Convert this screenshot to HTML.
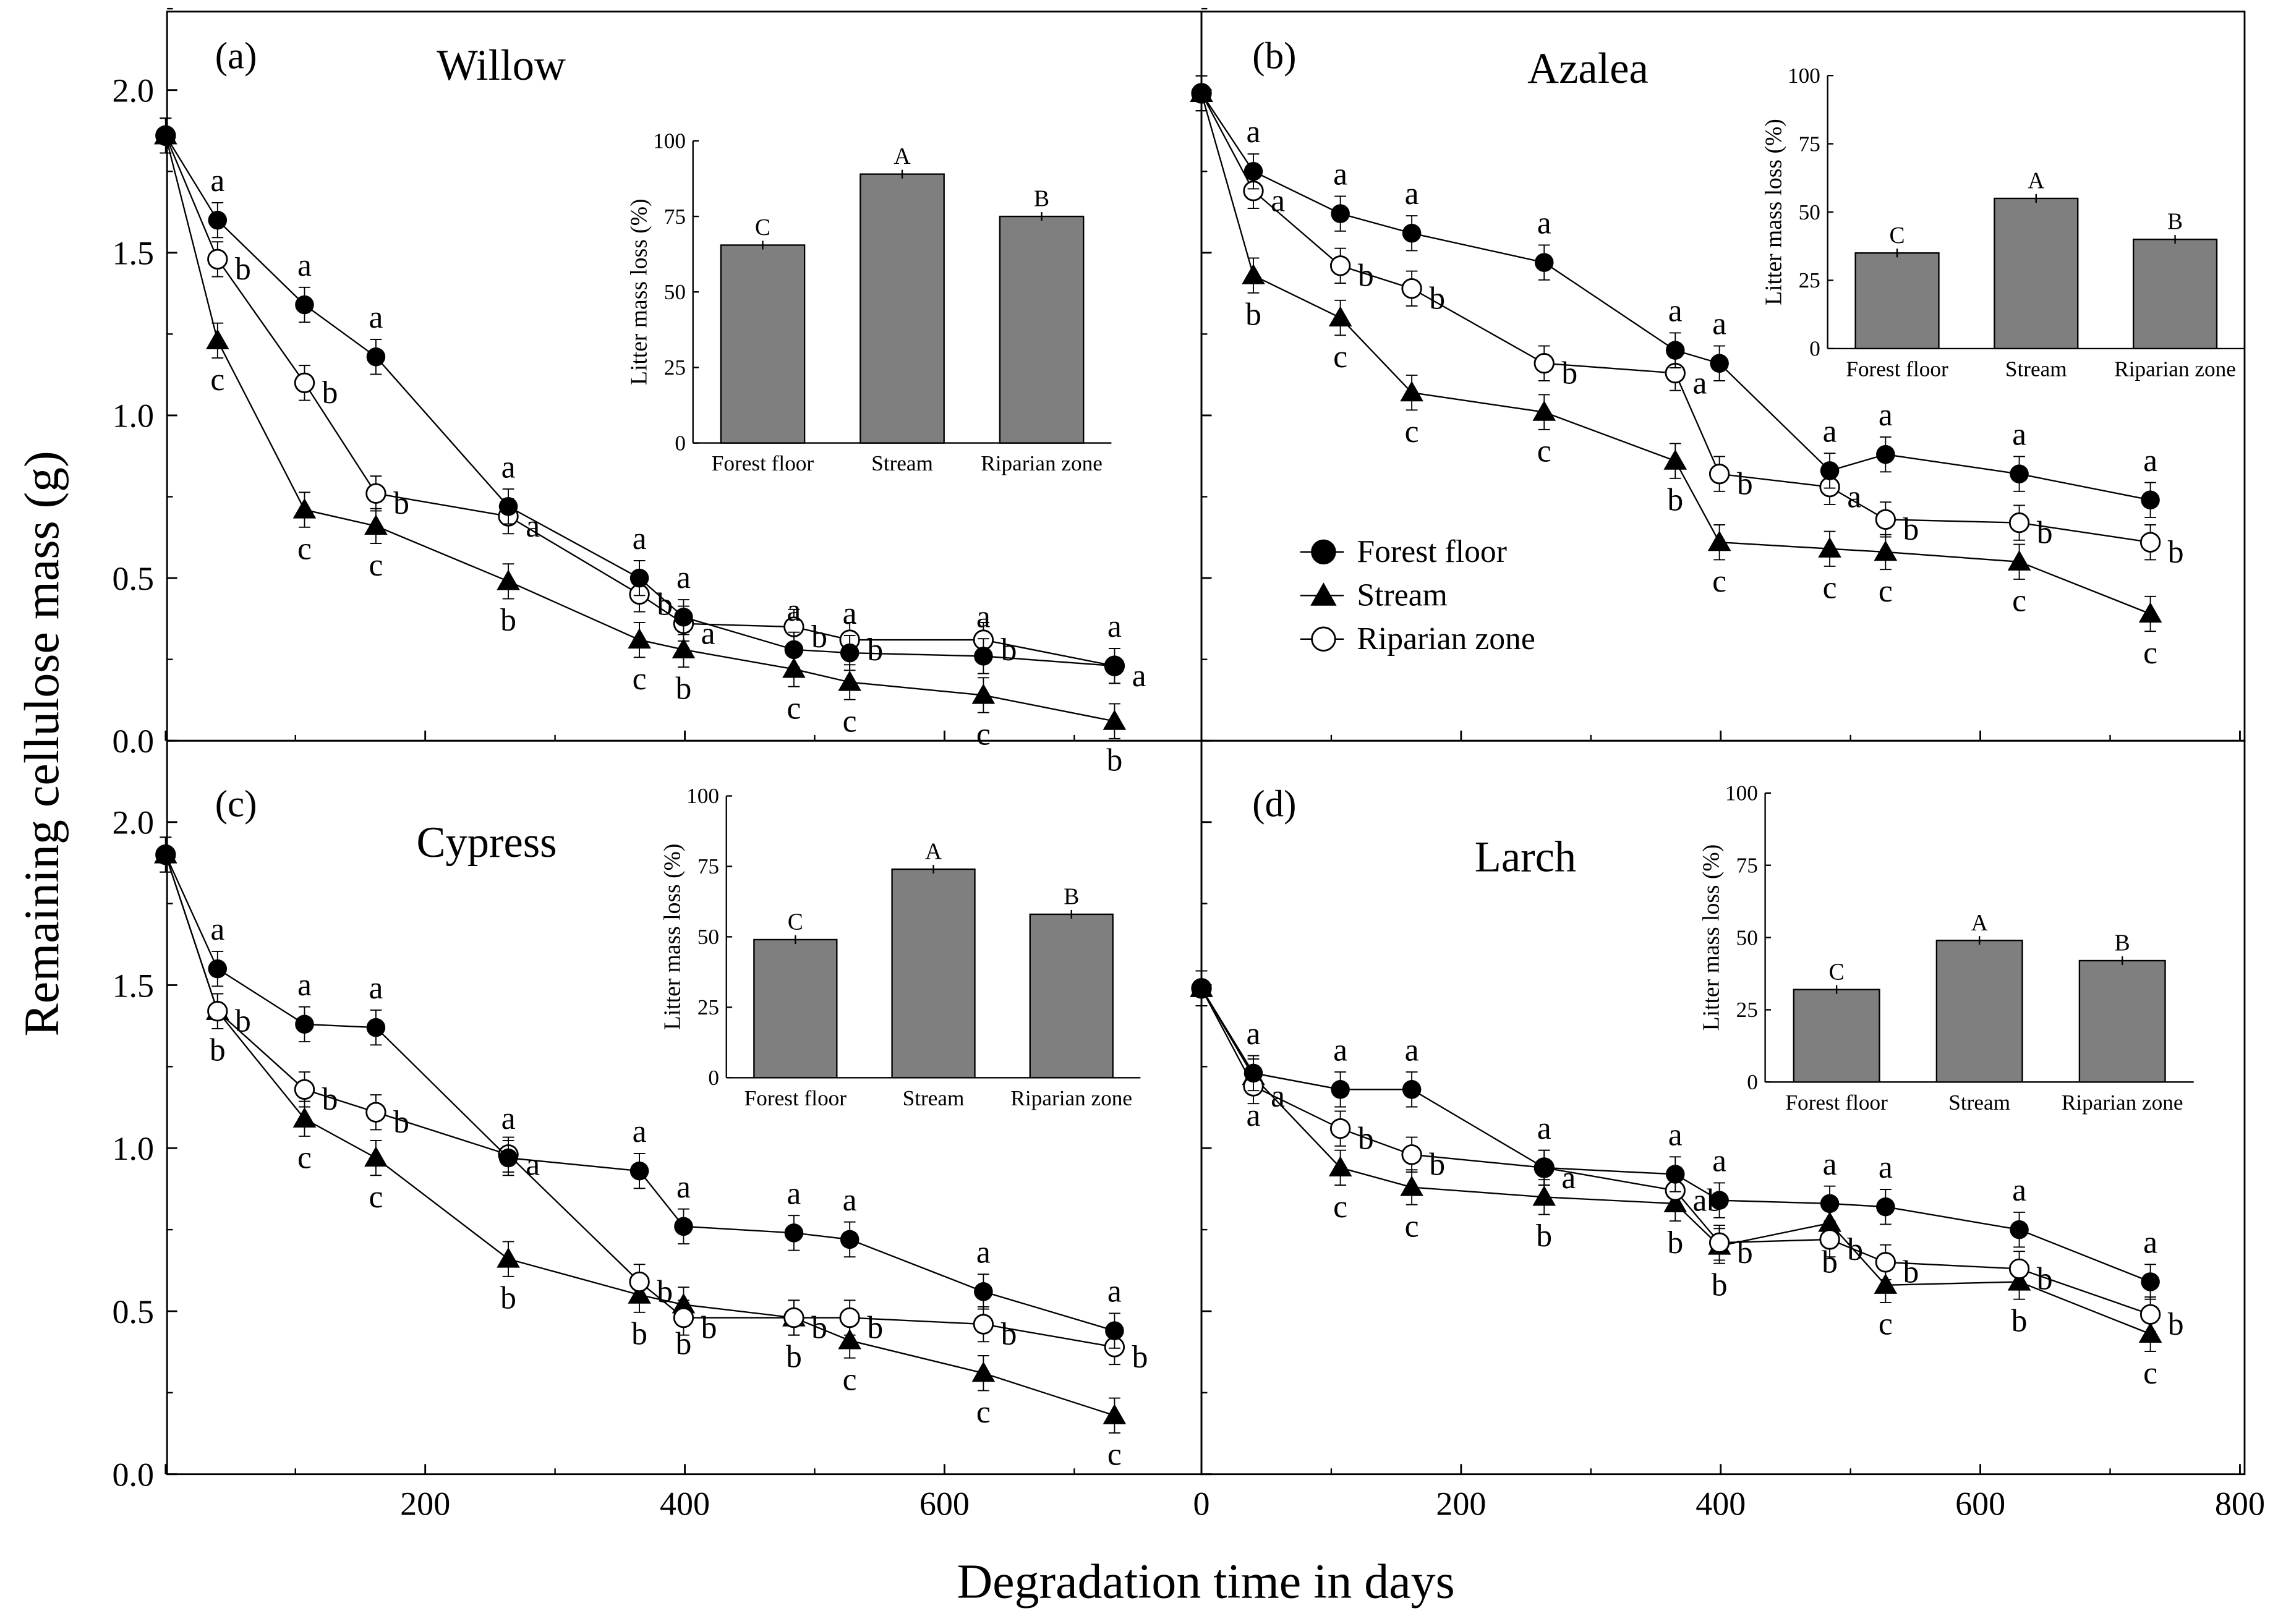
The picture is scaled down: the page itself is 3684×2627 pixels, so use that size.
<!DOCTYPE html>
<html><head><meta charset="utf-8"><style>
html,body{margin:0;padding:0;background:#fff;}
svg, svg text{font-family:"Liberation Serif","Times New Roman",serif;}
</style></head><body>
<svg id="chart" width="3684" height="2622" viewBox="0 0 1568 1116" preserveAspectRatio="none" xmlns="http://www.w3.org/2000/svg" font-family="Liberation Serif, serif">
<rect width="1568" height="1116" fill="#fff"/>
</svg>
<script>
const days = [0,40,107,162,264,365,399,484,527,630,731];
const titles = ["Willow","Azalea","Cypress","Larch"];
const tags = ["(a)","(b)","(c)","(d)"];
const ffA=[1.86,1.60,1.34,1.18,0.72,0.50,0.38,0.28,0.27,0.26,0.23];
const stA=[1.86,1.23,0.71,0.66,0.49,0.31,0.28,0.22,0.18,0.14,0.06];
const rpA=[1.86,1.48,1.10,0.76,0.69,0.45,0.36,0.35,0.31,0.31,0.23];
const ffB=[1.99,1.75,1.62,1.56,1.47,1.20,1.16,0.83,0.88,0.82,0.74];
const stB=[1.99,1.43,1.30,1.07,1.01,0.86,0.61,0.59,0.58,0.55,0.39];
const rpB=[1.99,1.69,1.46,1.39,1.16,1.13,0.82,0.78,0.68,0.67,0.61];
const ffC=[1.90,1.55,1.38,1.37,0.97,0.93,0.76,0.74,0.72,0.56,0.44];
const stC=[1.90,1.42,1.09,0.97,0.66,0.55,0.52,0.48,0.41,0.31,0.18];
const rpC=[1.90,1.42,1.18,1.11,0.98,0.59,0.48,0.48,0.48,0.46,0.39];
const ffD=[1.49,1.23,1.18,1.18,0.94,0.92,0.84,0.83,0.82,0.75,0.59];
const stD=[1.49,1.22,0.94,0.88,0.85,0.83,0.70,0.77,0.58,0.59,0.43];
const rpD=[1.49,1.19,1.06,0.98,0.94,0.87,0.71,0.72,0.65,0.63,0.49];
const lfA=["","a","a","a","a","a","a","a","a","a","a"];
const lsA=["","c","c","c","b","c","b","c","c","c","b"];
const lrA=["","b","b","b","a","b","a","b","b","b","a"];
const lfB=["","a","a","a","a","a","a","a","a","a","a"];
const lsB=["","b","c","c","c","b","c","c","c","c","c"];
const lrB=["","a","b","b","b","a","b","a","b","b","b"];
const lfC=["","a","a","a","a","a","a","a","a","a","a"];
const lsC=["","b","c","c","b","b","b","b","c","c","c"];
const lrC=["","b","b","b","a","b","b","b","b","b","b"];
const lfD=["","a","a","a","a","a","a","a","a","a","a"];
const lsD=["","a","c","c","b","b","b","b","c","b","c"];
const lrD=["","a","b","b","a","ab","b","b","b","b","b"];
const barCats=["Forest floor","Stream","Riparian zone"];
const barLetters=["C","A","B"];
const barA=[65.5,89,75];
const barB=[35,55,40];
const barC=[49,74,58];
const barD=[32,49,42];
const yTicks=[0,0.5,1.0,1.5,2.0];
const yTickLabels=["0.0","0.5","1.0","1.5","2.0"];
const xTicks=[0,200,400,600,800];
const barTicks=[0,25,50,75,100];

const svg=document.getElementById('chart');
const NS="http://www.w3.org/2000/svg";
function el(t,a,p){const e=document.createElementNS(NS,t);for(const k in a)e.setAttribute(k,a[k]);(p||svg).appendChild(e);return e;}
function txt(s,a,p){a['font-family']='Liberation Serif, serif';const e=el('text',a,p);e.textContent=s;return e;}

const panels=[
 {L:115,R:827,T:8,B:510,ff:ffA,st:stA,rp:rpA,lf:lfA,ls:lsA,lr:lrA,bars:barA,inset:[477,97,765,305],tx:148,ty:47,tt:345,ttl:55,leftAxis:true,bottomAxis:false},
 {L:827,R:1545,T:8,B:510,ff:ffB,st:stB,rp:rpB,lf:lfB,ls:lsB,lr:lrB,bars:barB,inset:[1258,52,1545,240],tx:862,ty:47,tt:1093,ttl:57,leftAxis:false,bottomAxis:false},
 {L:115,R:827,T:510,B:1015,ff:ffC,st:stC,rp:rpC,lf:lfC,ls:lsC,lr:lrC,bars:barC,inset:[500,548,785,742],tx:148,ty:562,tt:335,ttl:590,leftAxis:true,bottomAxis:true},
 {L:827,R:1545,T:510,B:1015,ff:ffD,st:stD,rp:rpD,lf:lfD,ls:lsD,lr:lrD,bars:barD,inset:[1215,546,1510,745],tx:862,ty:562,tt:1050,ttl:600,leftAxis:false,bottomAxis:true}
];

panels.forEach((p,i)=>{
 const g=el('g',{});
 
 
 const x0=p.L===115?114:827;
 const sx=d=>x0+d*0.8935;
 const sy=v=>p.B-v*((p.B-p.T)===502?224:224.5);
 el('rect',{x:p.L,y:p.T,width:p.R-p.L,height:p.B-p.T,fill:'none',stroke:'#000','stroke-width':1.2},g);
 yTicks.forEach((v,k)=>{
  el('line',{x1:p.L,x2:p.L+7,y1:sy(v),y2:sy(v),stroke:'#000','stroke-width':1.2},g);
  el('line',{x1:p.L,x2:p.L+4,y1:sy(v+0.25),y2:sy(v+0.25),stroke:'#000','stroke-width':1},g);
  if(p.leftAxis){const t=txt(yTickLabels[k],{x:p.L-9,y:sy(v)+8,'text-anchor':'end','font-size':23},g);
   }
 });
 xTicks.forEach(d=>{
  const x=sx(d);
  if(x>=p.L-1&&x<=p.R+1){el('line',{x1:x,x2:x,y1:p.B,y2:p.B-7,stroke:'#000','stroke-width':1.2},g);}
  const xm=sx(d+100);
  if(xm<p.R)el('line',{x1:xm,x2:xm,y1:p.B,y2:p.B-4,stroke:'#000','stroke-width':1},g);
  if(p.bottomAxis&&x>=p.L-1&&x<=p.R+1&&!(p.L===115&&d===0)){
   const t=txt(String(d),{x:x,y:p.B+28,'text-anchor':'middle','font-size':23},g);
   }
 });
 const tg=txt(tags[i],{x:p.tx,y:p.ty,'font-size':26},g);
 
 const tt=txt(titles[i],{x:p.tt,y:p.ttl,'text-anchor':'middle','font-size':30},g);
 
 const series=[[p.st,'tri',p.ls,'stream'],[p.rp,'open',p.lr,'riparian'],[p.ff,'fill',p.lf,'forest-floor']];
 series.forEach(([vals,kind,labs,nm])=>{
  const pts=vals.map((v,k)=>sx(days[k])+','+sy(v)).join(' ');
  const pl=el('polyline',{points:pts,fill:'none',stroke:'#000','stroke-width':1},g);
  
  vals.forEach((v,k)=>{
   const x=sx(days[k]),y=sy(v);
   el('line',{x1:x,x2:x,y1:y-12,y2:y+12,stroke:'#000','stroke-width':0.8},g);
   el('line',{x1:x-4,x2:x+4,y1:y-12,y2:y-12,stroke:'#000','stroke-width':0.8},g);
   el('line',{x1:x-4,x2:x+4,y1:y+12,y2:y+12,stroke:'#000','stroke-width':0.8},g);
   let m;
   if(kind==='tri')m=el('polygon',{points:`${x},${y-8} ${x-8},${y+6} ${x+8},${y+6}`,fill:'#000'},g);
   else if(kind==='open')m=el('circle',{cx:x,cy:y,r:6.5,fill:'#fff',stroke:'#000','stroke-width':1.2},g);
   else m=el('circle',{cx:x,cy:y,r:6.5,fill:'#000'},g);
   
   if(labs[k]){
    let lx=x,ly=y,anc='middle';
    if(kind==='fill')ly=y-20;else if(kind==='tri')ly=y+34;else{lx=x+12;ly=y+14;anc='start';}
    const lt=txt(labs[k],{x:lx,y:ly,'text-anchor':anc,'font-size':22},g);
    
   }
  });
 });
 const [ix1,iy1,ix2,iy2]=p.inset;
 const ig=el('g',{},g);
 
 const by=v=>iy2-(iy2-iy1)*v/100;
 const bw=(ix2-ix1);
 el('line',{x1:ix1,x2:ix1,y1:iy1,y2:iy2,stroke:'#000','stroke-width':1},ig);
 el('line',{x1:ix1,x2:ix2,y1:iy2,y2:iy2,stroke:'#000','stroke-width':1},ig);
 barTicks.forEach(v=>{
  el('line',{x1:ix1,x2:ix1+4,y1:by(v),y2:by(v),stroke:'#000'},ig);
  txt(String(v),{x:ix1-5,y:by(v)+5,'text-anchor':'end','font-size':15},ig);
 });
 txt('Litter mass loss (%)',{x:0,y:0,'text-anchor':'middle','font-size':16,transform:`translate(${ix1-32},${(iy1+iy2)/2}) rotate(-90)`},ig);
 p.bars.forEach((v,k)=>{
  const cx=ix1+bw*(2*k+1)/6, w=bw*0.2;
  const r=el('rect',{x:cx-w/2,y:by(v),width:w,height:iy2-by(v),fill:'#7f7f7f',stroke:'#000','stroke-width':1},ig);
  
  el('line',{x1:cx,x2:cx,y1:by(v)-3,y2:by(v)+3,stroke:'#000'},ig);
  txt(barLetters[k],{x:cx,y:by(v)-7,'text-anchor':'middle','font-size':16},ig);
  txt(barCats[k],{x:cx,y:iy2+19,'text-anchor':'middle','font-size':15},ig);
 });
});

const lg=el('g',{});

[['Forest floor','fill',380],['Stream','tri',410],['Riparian zone','open',440]].forEach(([n,k,y])=>{
 const e=el('g',{},lg);
 
 el('line',{x1:895,x2:925,y1:y,y2:y,stroke:'#000'},e);
 const x=911;
 if(k==='tri')el('polygon',{points:`${x},${y-9} ${x-9},${y+7} ${x+9},${y+7}`,fill:'#000'},e);
 else el('circle',{cx:x,cy:y,r:8,fill:k==='fill'?'#000':'#fff',stroke:'#000','stroke-width':1.2},e);
 txt(n,{x:934,y:y+7,'font-size':22},e);
});
const yt=txt('Remaining cellulose mass (g)',{x:0,y:0,'text-anchor':'middle','font-size':34,transform:'translate(40,512) rotate(-90)'});

const xt=txt('Degradation time in days',{x:830,y:1100,'text-anchor':'middle','font-size':34});

</script>
</body></html>
